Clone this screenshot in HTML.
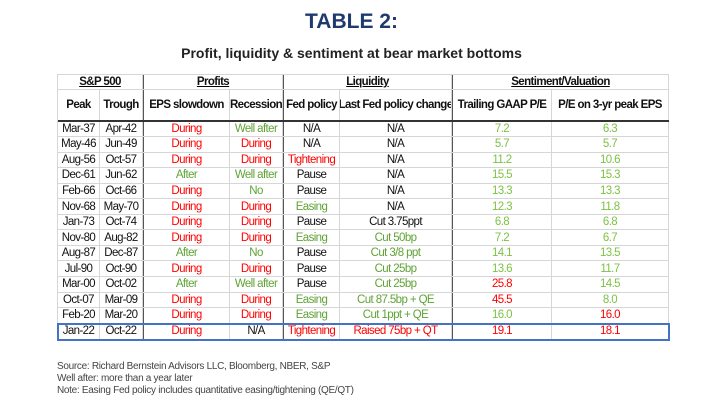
<!DOCTYPE html><html><head><style>
body{margin:0;width:703px;height:414px;background:#fff;font-family:"Liberation Sans",sans-serif;position:relative;overflow:hidden}
.t{position:absolute;left:0;width:703px;text-align:center}
#tb{position:absolute;left:57px;top:74px;width:611px;border-left:1px solid #d6d6d6;border-top:1px solid #d6d6d6;font-size:11.5px;letter-spacing:-0.6px}
.row{display:flex;height:15.55px;box-sizing:border-box;border-bottom:1px solid #d6d6d6}
.row>div{box-sizing:border-box;border-right:1px solid #d6d6d6;text-align:center;white-space:nowrap;overflow:hidden;display:flex;align-items:center;justify-content:center;color:#111}
.row>div:nth-child(1){width:42px}.row>div:nth-child(2){width:43px}.row>div:nth-child(3){width:87px;border-left:1px solid #555}.row>div:nth-child(4){width:53px}.row>div:nth-child(5){width:57px;border-left:1px solid #555}.row>div:nth-child(6){width:112px}.row>div:nth-child(7){width:100px;border-left:1px solid #555}.row>div:nth-child(8){width:117px}
.h1{height:15px;font-weight:bold;text-decoration:underline}
.h1>div:nth-child(1){width:85px!important}.h1>div:nth-child(2){width:140px!important;border-left:1px solid #555}.h1>div:nth-child(3){width:169px!important;border-left:1px solid #555}.h1>div:nth-child(4){width:217px!important;border-left:1px solid #555}
.h2{height:31.5px;font-weight:bold;border-bottom:2px solid #333}
.r{color:#f00!important}.g{color:#5fa335!important}.l{color:#7cc242!important}
.last{outline:2px solid #4472c4;outline-offset:-1px;position:relative;height:16px}
.f{position:absolute;left:57px;font-size:10px;color:#444;letter-spacing:-0.3px}
</style></head><body>
<div class="t" style="top:10px;font-size:21px;font-weight:bold;color:#1f3a6e">TABLE 2:</div>
<div class="t" style="top:45px;font-size:14px;font-weight:bold;color:#222">Profit, liquidity &amp; sentiment at bear market bottoms</div>
<div id="tb">
<div class="row h1"><div>S&amp;P 500</div><div>Profits</div><div>Liquidity</div><div>Sentiment/Valuation</div></div>
<div class="row h2"><div>Peak</div><div>Trough</div><div>EPS slowdown</div><div>Recession</div><div>Fed policy</div><div>Last Fed policy change</div><div>Trailing GAAP P/E</div><div>P/E on 3-yr peak EPS</div></div>
<div class="row"><div>Mar-37</div><div>Apr-42</div><div class="r">During</div><div class="g">Well after</div><div>N/A</div><div>N/A</div><div class="l">7.2</div><div class="l">6.3</div></div>
<div class="row"><div>May-46</div><div>Jun-49</div><div class="r">During</div><div class="r">During</div><div>N/A</div><div>N/A</div><div class="l">5.7</div><div class="l">5.7</div></div>
<div class="row"><div>Aug-56</div><div>Oct-57</div><div class="r">During</div><div class="r">During</div><div class="r">Tightening</div><div>N/A</div><div class="l">11.2</div><div class="l">10.6</div></div>
<div class="row"><div>Dec-61</div><div>Jun-62</div><div class="g">After</div><div class="g">Well after</div><div>Pause</div><div>N/A</div><div class="l">15.5</div><div class="l">15.3</div></div>
<div class="row"><div>Feb-66</div><div>Oct-66</div><div class="r">During</div><div class="g">No</div><div>Pause</div><div>N/A</div><div class="l">13.3</div><div class="l">13.3</div></div>
<div class="row"><div>Nov-68</div><div>May-70</div><div class="r">During</div><div class="r">During</div><div class="g">Easing</div><div>N/A</div><div class="l">12.3</div><div class="l">11.8</div></div>
<div class="row"><div>Jan-73</div><div>Oct-74</div><div class="r">During</div><div class="r">During</div><div>Pause</div><div>Cut 3.75ppt</div><div class="l">6.8</div><div class="l">6.8</div></div>
<div class="row"><div>Nov-80</div><div>Aug-82</div><div class="r">During</div><div class="r">During</div><div class="g">Easing</div><div class="g">Cut 50bp</div><div class="l">7.2</div><div class="l">6.7</div></div>
<div class="row"><div>Aug-87</div><div>Dec-87</div><div class="g">After</div><div class="g">No</div><div>Pause</div><div class="g">Cut 3/8 ppt</div><div class="l">14.1</div><div class="l">13.5</div></div>
<div class="row"><div>Jul-90</div><div>Oct-90</div><div class="r">During</div><div class="r">During</div><div>Pause</div><div class="g">Cut 25bp</div><div class="l">13.6</div><div class="l">11.7</div></div>
<div class="row"><div>Mar-00</div><div>Oct-02</div><div class="g">After</div><div class="g">Well after</div><div>Pause</div><div class="g">Cut 25bp</div><div class="r">25.8</div><div class="l">14.5</div></div>
<div class="row"><div>Oct-07</div><div>Mar-09</div><div class="r">During</div><div class="r">During</div><div class="g">Easing</div><div class="g">Cut 87.5bp + QE</div><div class="r">45.5</div><div class="l">8.0</div></div>
<div class="row"><div>Feb-20</div><div>Mar-20</div><div class="r">During</div><div class="r">During</div><div class="g">Easing</div><div class="g">Cut 1ppt + QE</div><div class="l">16.0</div><div class="r">16.0</div></div>
<div class="row last"><div>Jan-22</div><div>Oct-22</div><div class="r">During</div><div>N/A</div><div class="r">Tightening</div><div class="r">Raised 75bp + QT</div><div class="r">19.1</div><div class="r">18.1</div></div>
</div>
<div class="f" style="top:361px">Source: Richard Bernstein Advisors LLC, Bloomberg, NBER, S&amp;P</div>
<div class="f" style="top:373px">Well after: more than a year later</div>
<div class="f" style="top:385px">Note: Easing Fed policy includes quantitative easing/tightening (QE/QT)</div>
</body></html>
